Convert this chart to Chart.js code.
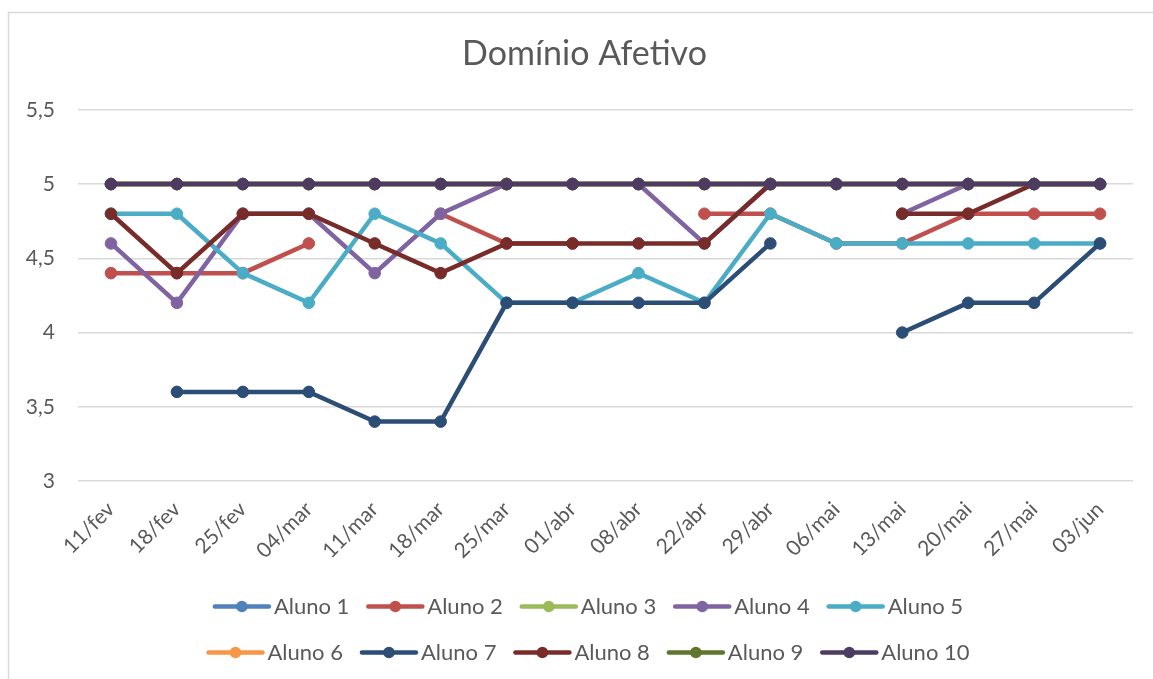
<!DOCTYPE html>
<html lang="pt">
<head>
  <meta charset="UTF-8" />
  <title>Domínio Afetivo</title>
  <script src="https://cdn.jsdelivr.net/npm/chart.js"></script>
  <style>
    html, body { margin: 0; padding: 0; background: #fff; }
    #wrap { width: 1153px; height: 679px; }
  </style>
</head>
<body>
  <div id="wrap"><canvas id="chart"></canvas></div>

  <script>
    const datas = ["11/fev", "18/fev", "25/fev", "04/mar", "11/mar", "18/mar", "25/mar", "01/abr",
      "08/abr", "22/abr", "29/abr", "06/mai", "13/mai", "20/mai", "27/mai", "03/jun"];

    const aluno1 = [5, 5, 5, 5, 5, 5, 5, 5, 5, 5, 5, 5, 5, 5, 5, 5];
    const aluno2 = [4.4, 4.4, 4.4, 4.6, null, 4.8, 4.6, 4.6, null, 4.8, 4.8, 4.6, 4.6, 4.8, 4.8, 4.8];
    const aluno3 = [5, 5, 5, 5, 5, 5, 5, 5, 5, 5, 5, 5, 5, 5, 5, 5];
    const aluno4 = [4.6, 4.2, 4.8, 4.8, 4.4, 4.8, 5, 5, 5, 4.6, 5, null, 4.8, 5, 5, 5];
    const aluno5 = [4.8, 4.8, 4.4, 4.2, 4.8, 4.6, 4.2, 4.2, 4.4, 4.2, 4.8, 4.6, 4.6, 4.6, 4.6, 4.6];
    const aluno6 = [5, 5, 5, 5, 5, 5, 5, 5, 5, 5, 5, 5, 5, 5, 5, 5];
    const aluno7 = [null, 3.6, 3.6, 3.6, 3.4, 3.4, 4.2, 4.2, 4.2, 4.2, 4.6, null, 4.0, 4.2, 4.2, 4.6];
    const aluno8 = [4.8, 4.4, 4.8, 4.8, 4.6, 4.4, 4.6, 4.6, 4.6, 4.6, 5, null, 4.8, 4.8, 5, 5];
    const aluno9 = [5, 5, 5, 5, 5, 5, 5, 5, 5, 5, 5, 5, 5, 5, 5, 5];
    const aluno10 = [5, 5, 5, 5, 5, 5, 5, 5, 5, 5, 5, 5, 5, 5, 5, 5];

    const nomes = ["Aluno 1", "Aluno 2", "Aluno 3", "Aluno 4", "Aluno 5",
      "Aluno 6", "Aluno 7", "Aluno 8", "Aluno 9", "Aluno 10"];
    const cores = ["#4f81bd", "#c0504d", "#9bbb59", "#8064a2", "#4bacc6",
      "#f79646", "#2c4d75", "#772c2a", "#5f7530", "#4d3b62"];
    const series = [aluno1, aluno2, aluno3, aluno4, aluno5, aluno6, aluno7, aluno8, aluno9, aluno10];

    const textColor = "#595959";
    const gridColor = "#d9d9d9";
    const boxW = 52;

    // in Excel the last series sits on top, so reverse the draw order
    const datasets = series.map((vals, i) => ({
      label: nomes[i],
      data: vals,
      borderColor: cores[i],
      backgroundColor: cores[i],
      borderWidth: 4.5,
      pointRadius: 5.8,
      pointBorderWidth: 1,
      pointBackgroundColor: cores[i],
      pointBorderColor: cores[i],
      tension: 0,
      order: series.length - i
    }));

    // chart frame
    const frame = {
      id: "frame",
      beforeDraw(chart) {
        const ctx = chart.ctx;
        ctx.save();
        ctx.strokeStyle = gridColor;
        ctx.lineWidth = 1.5;
        ctx.strokeRect(8.5, 12.5, 1300, 800);
        ctx.restore();
      }
    };

    // keep 5 legend items per row, and draw the line+marker samples
    const legW = 850;
    const legendRows = {
      id: "legendRows",
      beforeLayout(chart) {
        const lg = chart.legend;
        if (lg && !lg._wrapped) {
          const upd = lg.update;
          lg.update = function (w, h, m) { return upd.call(this, Math.min(w, legW), h, m); };
          lg._wrapped = true;
        }
      },
      afterLayout(chart) {
        const lg = chart.legend;
        lg.left = 162;
        lg.right = 162 + legW;
        lg.width = legW;
        // title sits a little right of the canvas centre
        const t = chart.titleBlock;
        t.left += 13;
        t.right += 13;
      },
      afterDraw(chart) {
        const lg = chart.legend;
        if (!lg || !lg.legendHitBoxes) return;
        const ctx = chart.ctx;
        ctx.save();
        lg.legendHitBoxes.forEach((hb, i) => {
          const c = cores[lg.legendItems[i].datasetIndex];
          const cy = hb.top + hb.height / 2;
          ctx.strokeStyle = c;
          ctx.fillStyle = c;
          ctx.lineWidth = 4.5;
          ctx.lineCap = "round";
          ctx.beginPath();
          ctx.moveTo(hb.left + 4, cy);
          ctx.lineTo(hb.left + 58, cy);
          ctx.stroke();
          ctx.beginPath();
          ctx.arc(hb.left + 31, cy, 5.8, 0, Math.PI * 2);
          ctx.fill();
        });
        ctx.restore();
      }
    };

    new Chart(document.getElementById("chart"), {
      type: "line",
      data: { labels: datas, datasets: datasets },
      plugins: [frame, legendRows],
      options: {
        responsive: true,
        maintainAspectRatio: false,
        animation: false,
        layout: { padding: { left: 10, right: 20, top: 12, bottom: 1 } },
        plugins: {
          title: {
            display: true,
            text: "Domínio Afetivo",
            color: textColor,
            font: { family: "Lato", size: 34, weight: "normal" },
            padding: { top: 22, bottom: 35 }
          },
          legend: {
            position: "bottom",
            labels: {
              color: textColor,
              font: { family: "Lato", size: 22 },
              boxWidth: boxW,
              boxHeight: 31,
              padding: 15,
              generateLabels(chart) {
                return chart.data.datasets.map((ds, i) => ({
                  text: ds.label,
                  datasetIndex: i,
                  fillStyle: "rgba(0,0,0,0)",
                  strokeStyle: "rgba(0,0,0,0)",
                  lineWidth: 0,
                  fontColor: textColor,
                  hidden: !chart.isDatasetVisible(i)
                }));
              }
            }
          },
          tooltip: { enabled: false }
        },
        scales: {
          x: {
            offset: true,
            grid: { display: false },
            border: { display: false },
            ticks: {
              color: textColor,
              font: { family: "Lato", size: 21 },
              minRotation: 45,
              maxRotation: 45,
              autoSkip: false,
              padding: 8
            },
            afterFit(scale) { scale.height = 95; }
          },
          y: {
            min: 3,
            max: 5.5,
            grid: { color: gridColor, lineWidth: 1.5, drawTicks: false },
            border: { display: false },
            ticks: {
              stepSize: 0.5,
              color: textColor,
              font: { family: "Lato", size: 21 },
              padding: 23,
              callback: (v) => String(v).replace(".", ",")
            },
            afterFit(scale) { scale.width = 68; }
          }
        }
      }
    });
  </script>
</body>
</html>
